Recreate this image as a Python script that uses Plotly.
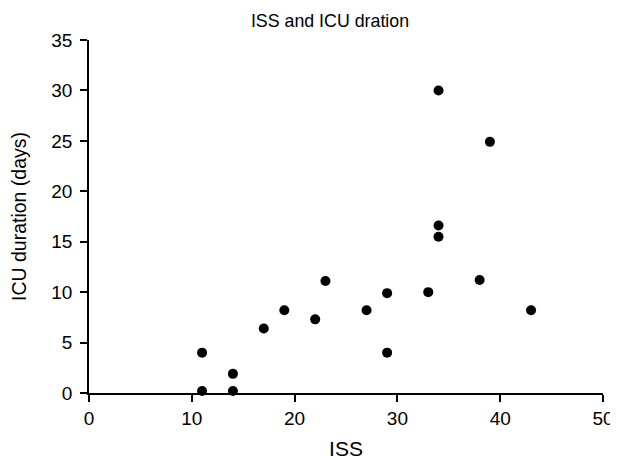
import plotly.graph_objects as go

iss = [11, 11, 14, 14, 17, 19, 22, 23, 27, 29, 29, 33, 34, 34, 34, 38, 39, 43]
icu_days = [4.0, 0.2, 1.9, 0.2, 6.4, 8.2, 7.3, 11.1, 8.2, 9.9, 4.0, 10.0, 16.6, 15.5, 30.0, 11.2, 24.9, 8.2]
x_ticks = [0, 10, 20, 30, 40, 50]
y_ticks = [0, 5, 10, 15, 20, 25, 30, 35]

FONT = "Liberation Sans, Arial, sans-serif"

fig = go.Figure(go.Scatter(
    x=iss, y=icu_days, mode="markers",
    marker=dict(color="black", size=10, line=dict(width=0)),
    cliponaxis=False, showlegend=False,
))

fig.update_layout(
    width=618, height=461,
    margin=dict(l=81, r=23, t=32, b=76),
    paper_bgcolor="white", plot_bgcolor="white",
    font=dict(family=FONT, color="black"),
    title=dict(text="ISS and ICU dration", x=0.521, xref="container", xanchor="center",
               y=0.972, yref="container", yanchor="middle",
               font=dict(size=17.8, family=FONT, color="black")),
    xaxis=dict(range=[0, 50], tickvals=x_ticks, ticks="outside", ticklen=7, tickwidth=1.5,
               tickcolor="black", showline=True, linecolor="black", linewidth=1.5,
               showgrid=False, zeroline=False, tickfont=dict(size=19), automargin=False,
               title=dict(text="ISS", font=dict(size=21), standoff=14)),
    yaxis=dict(range=[0, 35], tickvals=y_ticks, ticks="outside", ticklen=7, tickwidth=1.5,
               tickcolor="black", showline=True, linecolor="black", linewidth=1.5,
               showgrid=False, zeroline=False, tickfont=dict(size=19), automargin=False,
               ticklabelstandoff=4,
               title=dict(text="ICU duration (days)", font=dict(size=19.5), standoff=22)),
)

fig.write_html("out.html")
